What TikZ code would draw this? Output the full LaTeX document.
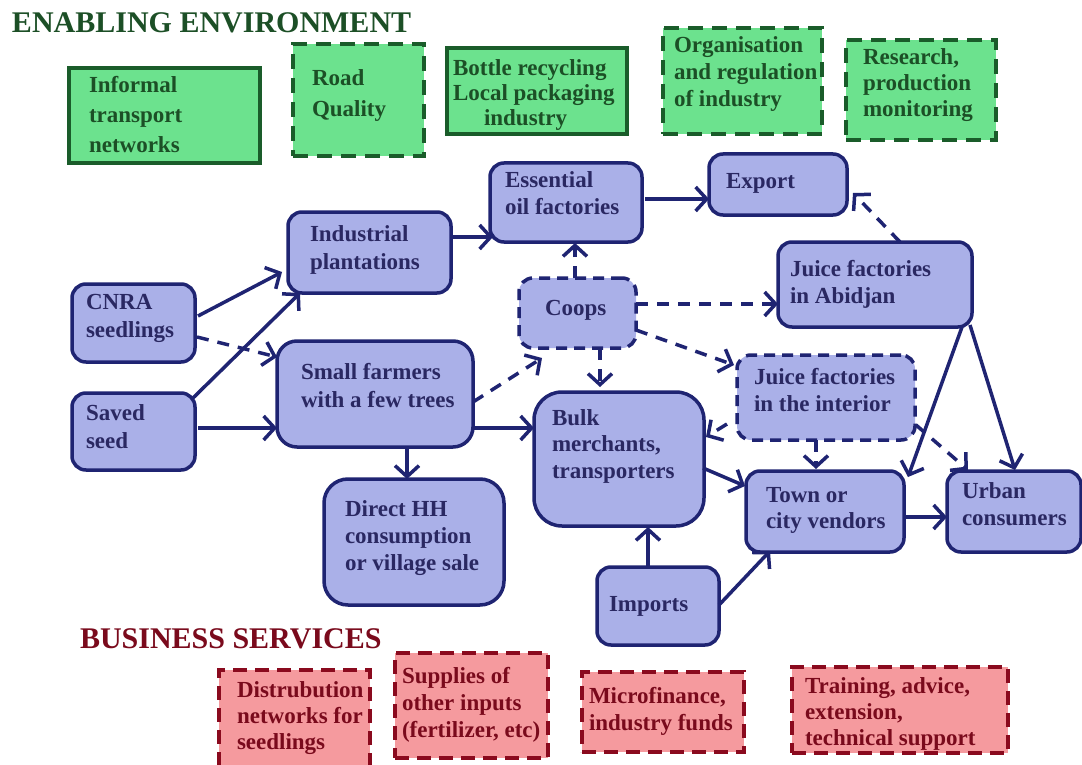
\documentclass[tikz,border=0pt]{standalone}
\usepackage{fontspec}
\setmainfont{Liberation Serif}
\usetikzlibrary{arrows.meta}
\definecolor{bfill}{HTML}{AAB0E8}
\definecolor{bline}{HTML}{1F2472}
\definecolor{btext}{HTML}{2A2862}
\definecolor{gfill}{HTML}{6CE28E}
\definecolor{gline}{HTML}{1A5C2A}
\definecolor{gtext}{HTML}{1C4F26}
\definecolor{rfill}{HTML}{F59A9E}
\definecolor{rline}{HTML}{8A0A1E}
\definecolor{rtext}{HTML}{7A0A1C}
\begin{document}
\begin{tikzpicture}[x=1pt,y=-1pt,
  boxbase/.style={draw, line width=3.5pt, inner sep=0pt, outer sep=0pt},
  bluebox/.style={boxbase, fill=bfill, draw=bline, rounded corners=14pt},
  bluedash/.style={bluebox, dash pattern=on 11pt off 7pt},
  greenbox/.style={boxbase, fill=gfill, draw=gline},
  greendash/.style={greenbox, dash pattern=on 15pt off 9pt},
  redbox/.style={boxbase, fill=rfill, draw=rline, dash pattern=on 14pt off 8pt},
  txt/.style={anchor=base west, inner sep=0pt, outer sep=0pt, align=left},
  btxt/.style={txt, text=btext, font=\fontsize{23}{28}\selectfont\bfseries},
  gtxt/.style={txt, text=gtext, font=\fontsize{23}{30}\selectfont\bfseries},
  rtxt/.style={txt, text=rtext, font=\fontsize{23}{27}\selectfont\bfseries},
  arr/.style={draw=bline, line width=3.5pt, -{Straight Barb[length=11pt,width=24pt]}},
  darr/.style={arr, dash pattern=on 12pt off 9pt},
]
\useasboundingbox (0,0) rectangle (1082,765);
\fill[white] (0,0) rectangle (1082,765);

% headings (text nodes are placed by the baseline of their last line)
\node[txt, text=gtext, font=\fontsize{30}{30}\selectfont\bfseries] (envT) at (12,33) {ENABLING ENVIRONMENT};
\node[txt, text=rtext, font=\fontsize{30}{30}\selectfont\bfseries] (busT) at (80,648) {BUSINESS SERVICES};

% enabling environment
\node[greenbox, minimum width=191pt, minimum height=95pt] (informal) at (164.5,115.5) {};
\node[gtxt] (informalT) at (89,153) {Informal\\transport\\networks};
\node[greendash, minimum width=131pt, minimum height=112pt] (road) at (358.5,100) {};
\node[gtxt, font=\fontsize{23}{31}\selectfont\bfseries] (roadT) at (312,117) {Road\\Quality};
\node[greenbox, minimum width=180pt, minimum height=86pt] (bottle) at (537,91) {};
\node[gtxt, font=\fontsize{23}{25}\selectfont\bfseries] (bottleT) at (453,126) {Bottle recycling\\Local packaging\\\hspace*{31pt}industry};
\node[greendash, minimum width=159pt, minimum height=106pt] (org) at (742.5,81) {};
\node[gtxt, font=\fontsize{23}{27}\selectfont\bfseries] (orgT) at (674,107) {Organisation\\and regulation\\of industry};
\node[greendash, minimum width=150pt, minimum height=100pt] (research) at (921,90) {};
\node[gtxt, font=\fontsize{23}{26}\selectfont\bfseries] (researchT) at (863,117) {Research,\\production\\monitoring};

% value chain
\node[bluebox, minimum width=123pt, minimum height=78pt] (cnra) at (133.5,323) {};
\node[btxt] (cnraT) at (86,337) {CNRA\\seedlings};
\node[bluebox, minimum width=123pt, minimum height=77pt] (saved) at (133.5,431.5) {};
\node[btxt] (savedT) at (86,448) {Saved\\seed};
\node[bluebox, minimum width=163pt, minimum height=81pt] (indp) at (369.5,252.5) {};
\node[btxt] (indpT) at (310,269) {Industrial\\plantations};
\node[bluebox, rounded corners=20pt, minimum width=196pt, minimum height=106pt] (small) at (375,394) {};
\node[btxt] (smallT) at (301,407) {Small farmers\\with a few trees};
\node[bluebox, rounded corners=24pt, minimum width=180pt, minimum height=126pt] (direct) at (414,542) {};
\node[btxt, font=\fontsize{23}{27}\selectfont\bfseries] (directT) at (345,570) {Direct HH\\consumption\\or village sale};
\node[bluebox, minimum width=152pt, minimum height=79pt] (essoil) at (566,202.5) {};
\node[btxt, font=\fontsize{23}{26}\selectfont\bfseries] (essoilT) at (505,214) {Essential\\oil factories};
\node[bluedash, minimum width=117pt, minimum height=70pt] (coops) at (577.5,313) {};
\node[btxt] (coopsT) at (545,315) {Coops};
\node[bluebox, minimum width=138pt, minimum height=61pt] (export) at (778,184.5) {};
\node[btxt] (exportT) at (726,189) {Export};
\node[bluebox, minimum width=194pt, minimum height=85pt] (abidjan) at (875,284.5) {};
\node[btxt, font=\fontsize{23}{27}\selectfont\bfseries] (abidjanT) at (790,303) {Juice factories\\in Abidjan};
\node[bluedash, minimum width=178pt, minimum height=85pt] (interior) at (826,397.5) {};
\node[btxt, font=\fontsize{23}{27}\selectfont\bfseries] (interiorT) at (754,411) {Juice factories\\in the interior};
\node[bluebox, rounded corners=28pt, minimum width=170pt, minimum height=134pt] (bulk) at (619,459) {};
\node[btxt, font=\fontsize{23}{26.5}\selectfont\bfseries] (bulkT) at (552,478) {Bulk\\merchants,\\transporters};
\node[bluebox, minimum width=158pt, minimum height=81pt] (town) at (825,511.5) {};
\node[btxt, font=\fontsize{23}{26}\selectfont\bfseries] (townT) at (766,528) {Town or\\city vendors};
\node[bluebox, minimum width=134pt, minimum height=81pt] (urban) at (1014,511.5) {};
\node[btxt, font=\fontsize{23}{27}\selectfont\bfseries] (urbanT) at (962,525) {Urban\\consumers};
\node[bluebox, minimum width=122pt, minimum height=78pt] (imports) at (658,606) {};
\node[btxt] (importsT) at (609,611) {Imports};

% business services
\node[redbox, minimum width=151pt, minimum height=100pt] (distr) at (294.5,720) {};
\node[rtxt, font=\fontsize{23}{26}\selectfont\bfseries] (distrT) at (237,749) {Distrubution\\networks for\\seedlings};
\node[redbox, minimum width=153pt, minimum height=105pt] (supplies) at (471.5,705.5) {};
\node[rtxt] (suppliesT) at (402,737) {Supplies of\\other inputs\\(fertilizer, etc)};
\node[redbox, minimum width=162pt, minimum height=80pt] (micro) at (663,712) {};
\node[rtxt] (microT) at (589,730) {Microfinance,\\industry funds};
\node[redbox, minimum width=216pt, minimum height=86pt] (training) at (900,710) {};
\node[rtxt, font=\fontsize{23}{26}\selectfont\bfseries] (trainingT) at (805,745) {Training, advice,\\extension,\\technical support};

% flows
\draw[arr]  ([shift={(3,-7)}]cnra.east) -- ([shift={(-6,19.5)}]indp.west);
\draw[darr] ([shift={(2,14)}]cnra.east) -- ([shift={(0,-37)}]small.west);
\draw[arr]  ([shift={(-2,5)}]saved.north east) -- ([shift={(12,0)}]indp.south west);
\draw[arr]  ([shift={(3,-3.5)}]saved.east) -- ([shift={(0,34)}]small.west);
\draw[arr]  ([shift={(0,34)}]small.east) -- ([shift={(0,-31)}]bulk.west);
\draw[arr]  ([shift={(32,0)}]small.south) -- ([shift={(-7,0)}]direct.north);
\draw[darr] ([shift={(0,8)}]small.east) -- ([shift={(-35.5,10)}]coops.south);
\draw[arr]  ([shift={(0,-15.5)}]indp.east) -- ([shift={(3,34.5)}]essoil.west);
\draw[darr] ([shift={(-2.5,0)}]coops.north) -- ([shift={(9,1)}]essoil.south);
\draw[darr] ([shift={(22.5,0)}]coops.south) -- ([shift={(-19,-5)}]bulk.north);
\draw[darr] ([shift={(0,-9)}]coops.east) -- ([shift={(0,19.5)}]abidjan.west);
\draw[darr] ([shift={(0,17)}]coops.east) -- ([shift={(-3,-32.5)}]interior.west);
\draw[arr]  ([shift={(3,-3.5)}]essoil.east) -- ([shift={(0,14.5)}]export.west);
\draw[darr] ([shift={(25,0)}]abidjan.north) -- ([shift={(6,-22)}]export.south east);
\draw[arr]  ([shift={(-10,0)}]abidjan.south east) -- ([shift={(4,6)}]town.north east);
\draw[arr]  ([shift={(-2,-2)}]abidjan.south east) -- ([shift={(1,-1)}]urban.north);
\draw[darr] ([shift={(-10,-16)}]interior.south west) -- ([shift={(2,-22)}]bulk.east);
\draw[darr] ([shift={(-10,0)}]interior.south) -- ([shift={(-9,-2)}]town.north);
\draw[darr] ([shift={(1,27.5)}]interior.east) -- ([shift={(-46,-1)}]urban.north);
\draw[arr]  ([shift={(-1,9)}]bulk.east) -- ([shift={(-1,-25.5)}]town.west);
\draw[arr]  ([shift={(-10,0)}]imports.north) -- ([shift={(29,1)}]bulk.south);
\draw[arr]  ([shift={(0,-1)}]imports.east) -- ([shift={(24,-1)}]town.south west);
\draw[arr]  ([shift={(0,5.5)}]town.east) -- ([shift={(0,5.5)}]urban.west);
\end{tikzpicture}
\end{document}
